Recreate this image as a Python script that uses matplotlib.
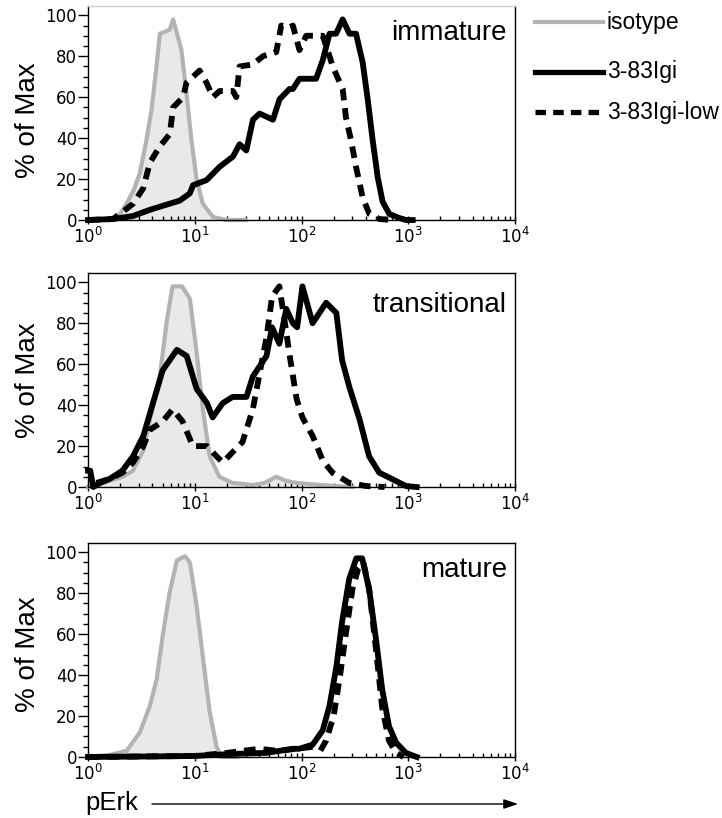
import math
import matplotlib
matplotlib.use("Agg")
import matplotlib.pyplot as plt
from matplotlib.lines import Line2D
from matplotlib.patches import FancyArrowPatch
from matplotlib.ticker import FixedLocator, MultipleLocator, FuncFormatter

plt.rcParams['font.family'] = ['Liberation Sans', 'DejaVu Sans']
plt.rcParams['mathtext.fontset'] = 'dejavusans'

# --- immature ---
iso1_x = [1, 1.3, 1.61, 2.0, 2.3, 2.7, 3.06, 3.5, 3.94, 4.38, 4.71, 5.3, 5.84, 6.27,
          6.74, 7.5, 8.36, 9.31, 10.4, 11.9, 14.8, 19.8, 30]
iso1_y = [0, 0.2, 0.5, 3, 8, 15, 23, 38, 54, 75, 91, 92, 93, 98,
          92, 83, 62, 39, 20, 8, 1.5, 0, 0]
hi1_x = [1, 1.72, 2.0, 2.65, 3.8, 5.43, 7.24, 8.98, 9.64, 12.9, 17.1, 22.8, 26.3, 30.4,
         35.1, 40.5, 54.0, 62.3, 77.2, 83, 95.7, 137, 158, 183, 211, 243, 281, 324,
         374, 417, 464, 517, 575, 664, 824, 951, 1100]
hi1_y = [0, 0.5, 1, 2, 5, 7.5, 9.5, 13, 17, 19.5, 26, 31, 37, 34,
         49, 52, 49, 59, 64, 64, 69, 69, 78, 91, 91, 98, 91, 91,
         77, 59, 39, 21, 9, 3, 1, 0, 0]
lo1_x = [1, 1.72, 1.99, 2.65, 3.29, 3.80, 4.71, 5.84, 6.27, 7.78, 8.36, 11.1, 12.9, 14.8,
         17.1, 22.8, 24.5, 26.3, 35.1, 43.5, 58.0, 64.6, 77.2, 83, 95.7, 110.6, 158,
         183, 196, 243, 261, 291, 324, 374, 432, 536, 710]
lo1_y = [0, 0.5, 3, 8, 15.5, 28, 36, 42, 55, 60, 67, 73, 67, 60,
         63, 63, 60, 75, 76, 80, 82, 95, 94, 95, 83, 90, 90,
         80, 75, 64, 50, 39, 26, 11, 3, 0.5, 0]

# --- transitional ---
iso2_x = [1, 1.6, 2.1, 2.64, 3.3, 3.8, 4.7, 5.5, 6.2, 7.6, 9.0, 10.4, 11.9, 13.8,
          17, 22.6, 35, 45, 58, 72, 90, 150, 300]
iso2_y = [0, 3, 5, 8, 18, 33, 54, 82, 98, 98, 92, 66, 38, 15,
          5, 2, 1, 2, 5, 3, 2, 1, 0]
hi2_x = [1.0, 1.05, 1.12, 1.3, 1.6, 2.1, 2.64, 3.3, 4.06, 5.0, 6.8, 8.4, 10.4, 13, 14.7,
         18.3, 22.6, 30.5, 35, 47, 53, 62, 72, 83, 91, 102, 127, 170, 212, 240, 280,
         350, 430, 535, 700, 950, 1200]
hi2_y = [8, 8, 0, 2, 4, 8, 15, 25, 41, 57, 67, 64, 48, 41, 34,
         41, 44, 44, 54, 64, 78, 70, 87, 80, 78, 98, 80, 90, 85, 62, 49,
         33, 15, 7, 4, 0.5, 0]
lo2_x = [1.2, 1.6, 2.1, 2.64, 3.3, 3.8, 5.0, 6.2, 7.7, 9.6, 13, 16, 18.3, 22.6, 28,
         35, 40, 47, 53, 62, 70, 77, 90, 102, 127, 158, 195, 280, 400, 600]
lo2_y = [2, 4, 7, 12, 20, 28, 32, 38, 32, 20, 20, 15, 12, 17, 22,
         38, 54, 73, 93, 98, 80, 65, 43, 34, 25, 13, 7, 2, 0.5, 0]

# --- mature ---
iso3_x = [1, 1.6, 2.3, 3.06, 3.8, 4.4, 5.0, 5.8, 6.8, 8.1, 9.0, 10.4, 11.9, 13.8,
          16, 17.8, 25]
iso3_y = [0, 1, 3, 12, 25, 38, 59, 80, 96, 98, 95, 74, 49, 22,
          5, 0, 0]
hi3_x = [1, 5, 10, 22.6, 47, 83, 95, 127, 158, 183, 212, 240, 280, 326, 370, 430,
         500, 570, 660, 770, 950, 1200]
hi3_y = [0, 0.3, 0.5, 1.5, 2, 4, 4, 6, 13, 25, 44, 66, 87, 97, 97, 82,
         57, 33, 15, 7, 2, 0]
lo3_x = [1, 10, 20, 40, 60, 90, 130, 150, 170, 200, 230, 260, 300, 340, 380, 430,
         500, 570, 660, 770, 900]
lo3_y = [0, 0.5, 2, 4, 3, 4, 5, 3, 8, 20, 40, 60, 82, 92, 95, 82,
         52, 24, 8, 2, 0]

panel_names = ['immature', 'transitional', 'mature']
series_labels = ['isotype', '3-83Igi', '3-83Igi-low']

ISO_LINE = '#b3b3b3'
ISO_FILL = '#e9e9e9'
LW = 4.2
DASH = (0, (2.0, 1.35))

panels = [
    (iso1_x, iso1_y, hi1_x, hi1_y, lo1_x, lo1_y),
    (iso2_x, iso2_y, hi2_x, hi2_y, lo2_x, lo2_y),
    (iso3_x, iso3_y, hi3_x, hi3_y, lo3_x, lo3_y),
]
bottoms = [0.731, 0.4046, 0.0746]
label_y = [0.84, 0.818, 0.841]
ylabel_y = [0.467, 0.5, 0.48]

fig = plt.figure(figsize=(7.22, 8.18), dpi=100)

for i, (ix, iy, hx, hy, lx, ly) in enumerate(panels):
    ax = fig.add_axes([0.1219, bottoms[i], 0.5914, 0.2616])
    ax.fill_between(ix, iy, color=ISO_FILL, lw=0, zorder=1)
    ax.plot(ix, iy, color=ISO_LINE, lw=3, clip_on=False, zorder=2)
    ax.plot(hx, hy, color='black', lw=LW, clip_on=False, zorder=3)
    ax.plot(lx, ly, color='black', lw=LW, ls=DASH, clip_on=False, zorder=4)

    ax.set_xscale('log')
    ax.set_xlim(1, 1e4)
    ax.set_ylim(0, 104.5)

    ax.xaxis.set_major_locator(FixedLocator([1, 10, 100, 1000, 10000]))
    ax.xaxis.set_minor_locator(FixedLocator(
        [m * 10 ** d for d in range(4) for m in range(2, 10)]))
    ax.xaxis.set_major_formatter(FuncFormatter(
        lambda v, p: r'$10^{%d}$' % round(math.log10(v))))
    ax.xaxis.set_minor_formatter(FuncFormatter(lambda v, p: ''))
    ax.yaxis.set_major_locator(MultipleLocator(20))
    ax.yaxis.set_minor_locator(MultipleLocator(5))

    ax.tick_params(axis='y', which='major', direction='out', length=7, width=1, pad=1)
    ax.tick_params(axis='y', which='minor', direction='out', length=3.5, width=1)
    ax.tick_params(axis='x', which='major', direction='inout', length=6, width=1, pad=2)
    ax.tick_params(axis='x', which='minor', direction='in', length=3, width=1)
    for lab in ax.get_xticklabels() + ax.get_yticklabels():
        lab.set_fontfamily('DejaVu Sans')
        lab.set_fontsize(12)

    for s in ax.spines.values():
        s.set_linewidth(1)
    if i == 0:
        ax.spines['top'].set_color('#d0d0d0')

    ax.set_ylabel('% of Max', fontsize=20)
    ax.yaxis.set_label_coords(-0.11, ylabel_y[i])
    ax.text(0.981, label_y[i], panel_names[i], transform=ax.transAxes,
            ha='right', va='baseline', fontsize=20)

# legend drawn by hand next to the first panel
leg_rows = [0.9731, 0.912, 0.863]
leg_styles = [dict(color=ISO_LINE, lw=3), dict(color='black', lw=3.8),
              dict(color='black', lw=3.8, ls=DASH)]
for yy, st, lab in zip(leg_rows, leg_styles, series_labels):
    fig.add_artist(Line2D([0.741, 0.835], [yy, yy], transform=fig.transFigure, **st))
    fig.text(0.8407, yy, lab, ha='left', va='center', fontsize=16.5)

# x-axis title with arrow
fig.text(0.1177, 0.0098, 'pErk', ha='left', va='baseline', fontsize=18.5)
arrow = FancyArrowPatch((0.2105, 0.0171), (0.7175, 0.0171), transform=fig.transFigure,
                        arrowstyle='-|>,head_length=0.86,head_width=0.29',
                        mutation_scale=10, lw=1, color='black',
                        shrinkA=0, shrinkB=0)
fig.add_artist(arrow)

fig.savefig('out.png', dpi=100)
